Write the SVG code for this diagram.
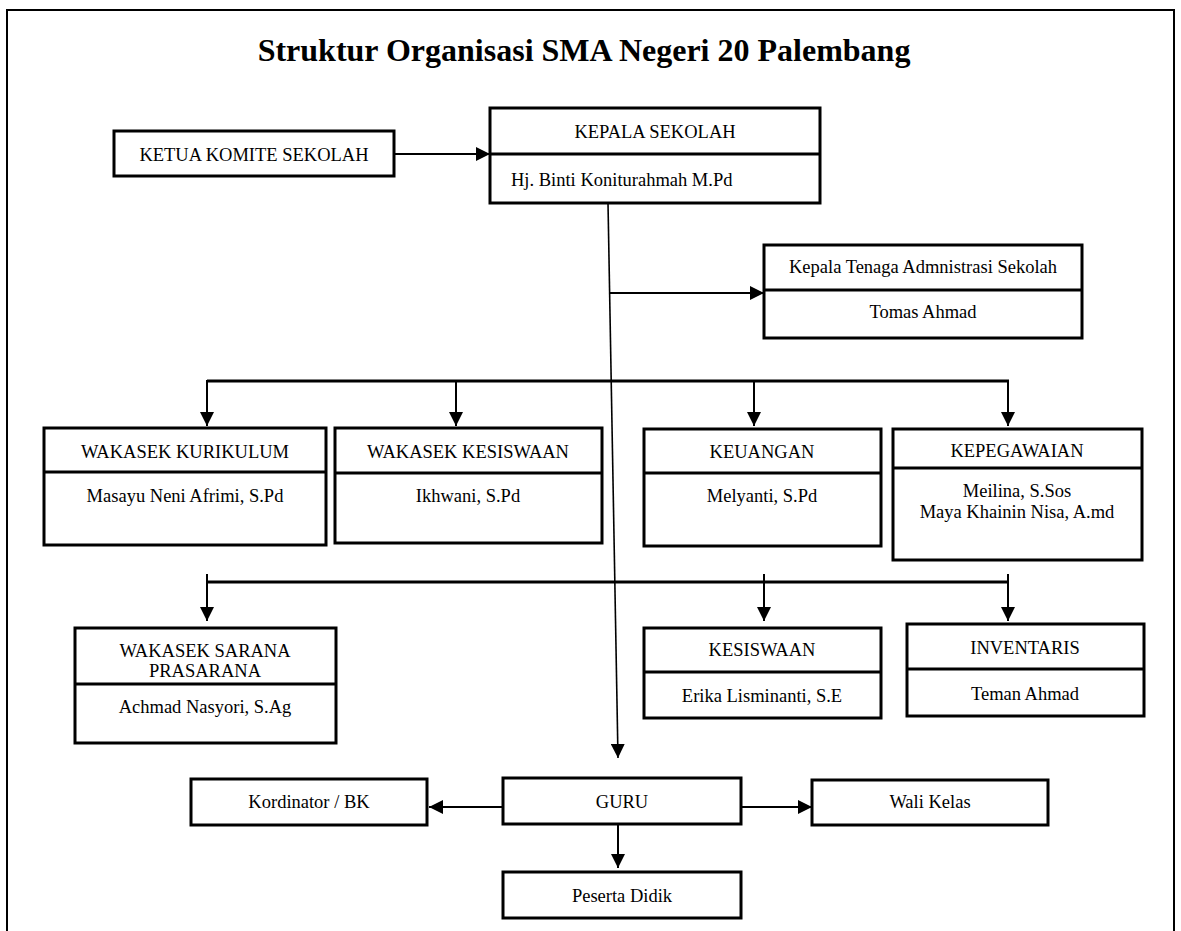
<svg xmlns="http://www.w3.org/2000/svg" width="1181" height="931" viewBox="0 0 1181 931">
<style>
.box{fill:#fff;stroke:#000;stroke-width:3}
.div{stroke:#000;stroke-width:3}
.t{font-family:"Liberation Serif","Times New Roman",serif;font-size:18.5px;fill:#000;text-anchor:middle}
.tl{font-family:"Liberation Serif","Times New Roman",serif;font-size:18.5px;fill:#000}
.title{font-family:"Liberation Serif","Times New Roman",serif;font-size:32px;font-weight:bold;fill:#000;text-anchor:middle}
.c{stroke:#000;stroke-width:2;fill:none}
.cb{stroke:#000;stroke-width:3;fill:none}
</style>
<defs>
<marker id="ah" markerUnits="userSpaceOnUse" markerWidth="14" markerHeight="14" refX="14" refY="7" orient="auto" viewBox="0 0 14 14">
<path d="M0,0 L14,7 L0,14 z" fill="#000"/>
</marker>
</defs>
<rect width="1181" height="931" fill="#fff"/>
<path d="M7,931 V10 H1174 V931" fill="none" stroke="#000" stroke-width="2"/>
<text class="title" x="584" y="61">Struktur Organisasi SMA Negeri 20 Palembang</text>

<g id="connectors">
<line class="c" x1="394" y1="154" x2="490" y2="154" marker-end="url(#ah)"/>
<line x1="608" y1="203" x2="618" y2="758" stroke="#000" stroke-width="1.6" marker-end="url(#ah)"/>
<line class="c" x1="610" y1="293" x2="764" y2="293" marker-end="url(#ah)"/>
<path class="cb" d="M207,381 H1009"/>
<line class="c" x1="207" y1="380" x2="207" y2="426" marker-end="url(#ah)"/>
<line class="c" x1="456" y1="380" x2="456" y2="426" marker-end="url(#ah)"/>
<line class="c" x1="754" y1="380" x2="754" y2="426" marker-end="url(#ah)"/>
<line class="c" x1="1008" y1="380" x2="1008" y2="426" marker-end="url(#ah)"/>
<path class="cb" d="M207,582 H1009"/>
<line class="c" x1="207" y1="574" x2="207" y2="621" marker-end="url(#ah)"/>
<line class="c" x1="764" y1="574" x2="764" y2="621" marker-end="url(#ah)"/>
<line class="c" x1="1008" y1="574" x2="1008" y2="621" marker-end="url(#ah)"/>
<line class="c" x1="503" y1="807" x2="429" y2="807" marker-end="url(#ah)"/>
<line class="c" x1="741" y1="807" x2="812" y2="807" marker-end="url(#ah)"/>
<line class="c" x1="618" y1="824" x2="618" y2="868" marker-end="url(#ah)"/>
</g>

<g id="ketua">
<rect class="box" x="114" y="131" width="280" height="45"/>
<text class="t" x="254" y="161">KETUA KOMITE SEKOLAH</text>
</g>
<g id="kepala">
<rect class="box" x="490" y="108" width="330" height="95"/>
<line class="div" x1="490" y1="154" x2="820" y2="154"/>
<text class="t" x="655" y="138">KEPALA SEKOLAH</text>
<text class="tl" x="511" y="186">Hj. Binti Koniturahmah M.Pd</text>
</g>
<g id="kepala-tu">
<rect class="box" x="764" y="245" width="318" height="93"/>
<line class="div" x1="764" y1="290" x2="1082" y2="290"/>
<text class="t" x="923" y="273">Kepala Tenaga Admnistrasi Sekolah</text>
<text class="t" x="923" y="318">Tomas Ahmad</text>
</g>

<g id="kurikulum">
<rect class="box" x="44" y="428" width="282" height="117"/>
<line class="div" x1="44" y1="472" x2="326" y2="472"/>
<text class="t" x="185" y="458">WAKASEK KURIKULUM</text>
<text class="t" x="185" y="502">Masayu Neni Afrimi, S.Pd</text>
</g>
<g id="wk-kesiswaan">
<rect class="box" x="335" y="428" width="267" height="115"/>
<line class="div" x1="335" y1="473" x2="602" y2="473"/>
<text class="t" x="468" y="458">WAKASEK KESISWAAN</text>
<text class="t" x="468" y="502">Ikhwani, S.Pd</text>
</g>
<g id="keuangan">
<rect class="box" x="644" y="429" width="237" height="117"/>
<line class="div" x1="644" y1="473" x2="881" y2="473"/>
<text class="t" x="762" y="458">KEUANGAN</text>
<text class="t" x="762" y="502">Melyanti, S.Pd</text>
</g>
<g id="kepegawaian">
<rect class="box" x="893" y="429" width="249" height="131"/>
<line class="div" x1="893" y1="468" x2="1142" y2="468"/>
<text class="t" x="1017" y="457">KEPEGAWAIAN</text>
<text class="t" x="1017" y="497">Meilina, S.Sos</text>
<text class="t" x="1017" y="518">Maya Khainin Nisa, A.md</text>
</g>

<g id="sarana">
<rect class="box" x="75" y="628" width="261" height="115"/>
<line class="div" x1="75" y1="684" x2="336" y2="684"/>
<text class="t" x="205" y="657">WAKASEK SARANA</text>
<text class="t" x="205" y="677">PRASARANA</text>
<text class="t" x="205" y="713">Achmad Nasyori, S.Ag</text>
</g>
<g id="kesiswaan">
<rect class="box" x="644" y="628" width="237" height="90"/>
<line class="div" x1="644" y1="672" x2="881" y2="672"/>
<text class="t" x="762" y="656">KESISWAAN</text>
<text class="t" x="762" y="702">Erika Lisminanti, S.E</text>
</g>
<g id="inventaris">
<rect class="box" x="907" y="624" width="237" height="92"/>
<line class="div" x1="907" y1="669" x2="1144" y2="669"/>
<text class="t" x="1025" y="654">INVENTARIS</text>
<text class="t" x="1025" y="700">Teman Ahmad</text>
</g>

<g id="kordinator">
<rect class="box" x="191" y="779" width="236" height="46"/>
<text class="t" x="309" y="808">Kordinator / BK</text>
</g>
<g id="guru">
<rect class="box" x="503" y="778" width="238" height="46"/>
<text class="t" x="622" y="808">GURU</text>
</g>
<g id="wali">
<rect class="box" x="812" y="780" width="236" height="45"/>
<text class="t" x="930" y="808">Wali Kelas</text>
</g>
<g id="peserta">
<rect class="box" x="503" y="872" width="238" height="46"/>
<text class="t" x="622" y="902">Peserta Didik</text>
</g>
</svg>
